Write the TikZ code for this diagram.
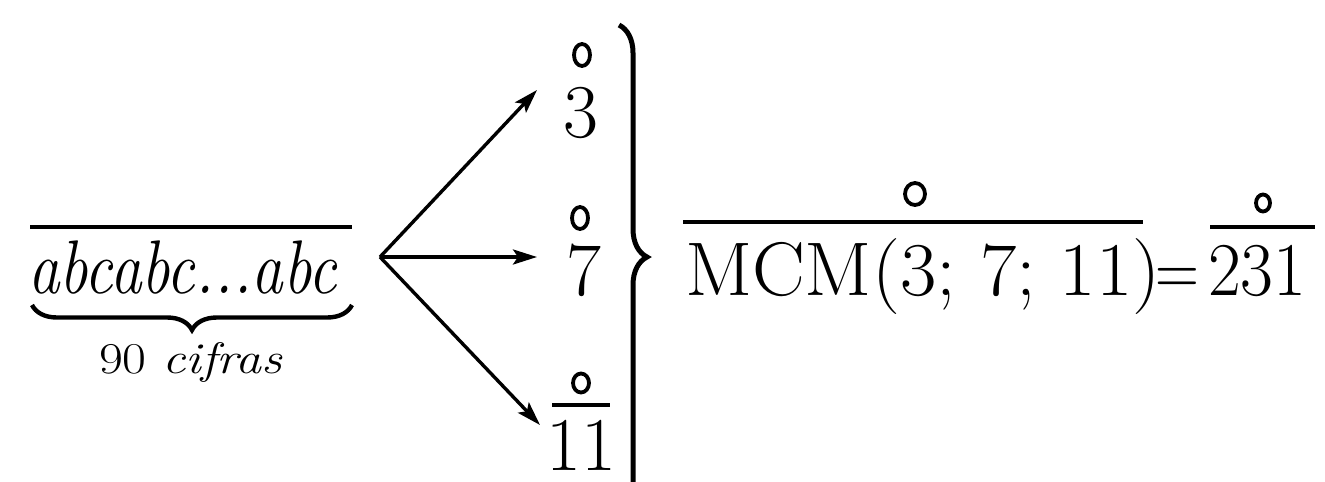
\documentclass[tikz,border=0pt]{standalone}
\usepackage{fontspec}
\setmainfont{Latin Modern Roman}
\usetikzlibrary{arrows.meta,decorations.pathreplacing}
\begin{document}
\begin{tikzpicture}[x=0.5pt,y=-0.5pt,
  big/.style={font=\fontsize{38}{44}\selectfont, inner sep=0pt, outer sep=0pt},
  small/.style={font=\fontsize{22}{26}\selectfont, inner sep=0pt, outer sep=0pt},
  bar/.style={line width=2.2pt},
  ring/.style={line width=1.9pt},
  arr/.style={line width=1.7pt, -{Stealth[length=12pt,width=7.5pt,inset=2.5pt]}},
  bracestyle/.style={line width=2.2pt, decorate}]
\useasboundingbox (0,0) rectangle (1325,481);
\clip (0,0) rectangle (1325,481);
% left number
\node[big, anchor=base west] (abc) at (28,293) {\scalebox{0.83}[1]{\itshape abcabc...abc}};
\draw[bar] (30,227) -- (352,227);
\draw[bracestyle, decoration={brace, amplitude=12.5pt}] (352,305) -- (32,305);
\node[small, anchor=base] (cif) at (191,373) {\scalebox{1.18}[1]{90 \textit{cifras}}};
% arrows
\coordinate (o) at (380,257);
\node[big, anchor=base] (n3) at (581,137) {3};
\node[big, anchor=base] (n7) at (584,295) {7};
\node[big, anchor=base] (n11) at (581,470) {11};
\coordinate (t3) at (537,90);
\coordinate (t7) at (537,257);
\coordinate (t11) at (540,425);
\draw[arr] (o) -- (t3);
\draw[arr] (o) -- (t7);
\draw[arr] (o) -- (t11);
% rings and bar over digits
\draw[ring] (582,55) ellipse [x radius=8, y radius=11];
\draw[ring] (580,218) ellipse [x radius=8, y radius=11];
\draw[ring] (581,383) ellipse [x radius=8, y radius=9.5];
\draw[bar] (552,405) -- (610,405);
% right brace
\draw[bracestyle, line width=2.5pt, decoration={brace, amplitude=14pt, aspect=0.4035}] (619,25) -- (619,600);
% result
\node[big, anchor=base west] (mcm) at (685,295) {\scalebox{1.04}[1]{MCM(3; 7; 11)}};
\draw[bar] (683,222) -- (1143,222);
\draw[ring] (915,194) ellipse [x radius=10, y radius=11];
\node[big, anchor=base] (eq) at (1177,295) {\scalebox{0.8}[1]{=}};
\node[big, anchor=base west] (res) at (1208,295) {\scalebox{0.94}[1]{231}};
\draw[bar] (1210,227) -- (1315,227);
\draw[ring] (1263,203) ellipse [x radius=7, y radius=8.5];
\end{tikzpicture}
\end{document}
